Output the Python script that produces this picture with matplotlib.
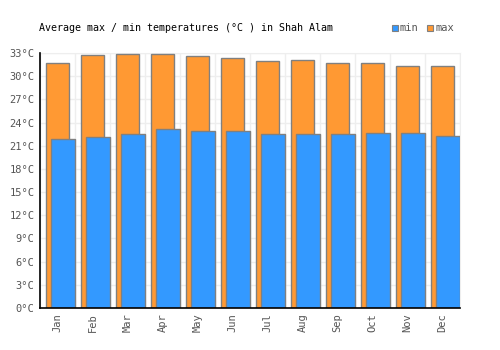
import matplotlib
matplotlib.use("Agg")
import matplotlib.pyplot as plt
import numpy as np

months = ["Jan", "Feb", "Mar", "Apr", "May", "Jun", "Jul", "Aug", "Sep", "Oct", "Nov", "Dec"]
t_max = [31.7, 32.7, 32.9, 32.9, 32.6, 32.3, 31.9, 32.1, 31.7, 31.7, 31.3, 31.3]
t_min = [21.9, 22.1, 22.5, 23.1, 22.9, 22.9, 22.5, 22.5, 22.5, 22.6, 22.7, 22.2]
yticks = list(range(0, 34, 3))

plt.rcParams['font.family'] = 'DejaVu Sans Mono'
blue = "#3399ff"
orange = "#ff9933"
edge = "#808080"

fig = plt.figure(figsize=(5, 3.5), dpi=100)
ax = fig.add_axes([0.08, 0.12, 0.84, 0.7286])

x = np.arange(len(months))
ax.bar(x + 0.17, t_max, width=0.66, align='edge', color=orange, edgecolor=edge, linewidth=1, zorder=3)
ax.bar(x + 0.31, t_min, width=0.69, align='edge', color=blue, edgecolor=edge, linewidth=1, zorder=4)

ax.set_xlim(0, 12)
ax.set_ylim(0, 33)
ax.set_yticks(yticks)
ax.set_yticklabels([f"{v}°C" for v in yticks], fontsize=7.5, color="#555555")
ax.set_xticks(x + 0.5)
ax.set_xticklabels(months, rotation=90, fontsize=7.5, color="#555555")
ax.set_xticks(np.arange(0, 13), minor=True)
ax.tick_params(axis='both', length=0, pad=4)
ax.tick_params(axis='x', which='minor', length=0)
ax.grid(axis='y', color="#eeeeee", linewidth=1, zorder=0)
ax.grid(axis='x', which='minor', color="#eeeeee", linewidth=1, zorder=0)
for s in ['top', 'right']:
    ax.spines[s].set_color("#eeeeee")
for s in ['left', 'bottom']:
    ax.spines[s].set_color("black")
    ax.spines[s].set_linewidth(1.2)
    ax.spines[s].set_zorder(5)

fig.text(0.078, 0.92, "Average max / min temperatures (°C ) in Shah Alam", fontsize=7.2, va='center', ha='left')

# legend
fig.patches.append(plt.Rectangle((0.783, 0.911), 0.012, 0.017, transform=fig.transFigure, facecolor=blue, edgecolor=edge, linewidth=0.8))
fig.text(0.8, 0.92, "min", fontsize=7.5, color="#555555", va='center', ha='left')
fig.patches.append(plt.Rectangle((0.853, 0.911), 0.012, 0.017, transform=fig.transFigure, facecolor=orange, edgecolor=edge, linewidth=0.8))
fig.text(0.87, 0.92, "max", fontsize=7.5, color="#555555", va='center', ha='left')

fig.savefig("out.png", dpi=100)
